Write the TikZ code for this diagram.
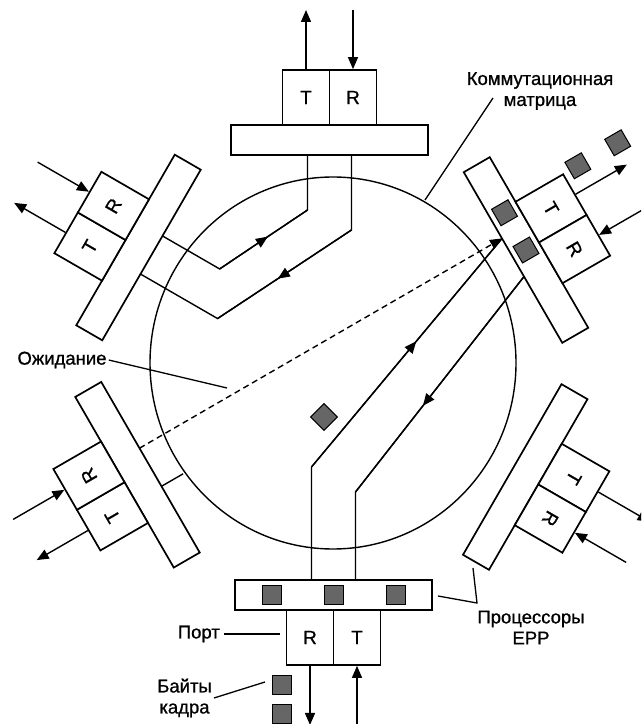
\documentclass[tikz,border=0pt]{standalone}
\usepackage{fontspec}
\setmainfont{Liberation Sans}
\newfontfamily\labelfont[FakeBold=0.9]{Liberation Sans}
\usetikzlibrary{arrows.meta,decorations.markings}

\tikzset{
  wire/.style={line width=1.4pt},
  frame/.style={draw, line width=1.7pt, fill=white, rectangle, inner sep=0pt, transform shape},
  probar/.style={frame, minimum width=197pt, minimum height=30pt},
  cellbox/.style={frame, minimum width=47pt, minimum height=55pt, font=\labelfont\fontsize{19}{22}\selectfont},
  tipped/.style={wire, -{Triangle[length=12pt,width=10pt]}},
  midtip/.style={decoration={markings, mark=at position #1 with {\arrow{Triangle[length=12pt,width=10pt]}}}, postaction={decorate}},
  byte/.style={draw=black, line width=1pt, fill=black!60, minimum size=19pt, inner sep=0pt, transform shape},
  caption/.style={font=\labelfont\fontsize{18.5}{21}\selectfont, inner sep=2pt, align=center},
  leader/.style={line width=1.3pt},
}

% one port: processor bar, T/R cells, lead points and the two external lines
% #1 name, #2 bar centre, #3 rotation, #4 1 = T out / R in, 0 = reversed,
% #5 extra options for the cell letters
\newcommand{\portunit}[5]{%
  \begin{scope}[shift={#2}, rotate=#3]
    \node[probar] (#1-bar) at (0,0) {};
    \node[cellbox] (#1-T) at (-23.5,42.5) {};
    \node[cellbox] (#1-R) at (23.5,42.5) {};
    \node[transform shape, font=\labelfont\fontsize{19}{22}\selectfont, #5] at (#1-T) {T};
    \node[transform shape, font=\labelfont\fontsize{19}{22}\selectfont, #5] at (#1-R) {R};
    \coordinate (#1-lt) at (-22,-15);
    \coordinate (#1-lr) at (22,-15);
    \coordinate (#1-to) at (-23.5,130);
    \coordinate (#1-ro) at (23.5,130);
    \ifnum#4=1
      \draw[tipped] (#1-T.north) -- (#1-to);
      \draw[tipped] (#1-ro) -- (#1-R.north);
    \else
      \draw[tipped] (#1-to) -- (#1-T.north);
      \draw[tipped] (#1-R.north) -- (#1-ro);
    \fi
  \end{scope}}

\begin{document}
\begin{tikzpicture}[x=1pt,y=1pt]
\useasboundingbox (0,0) rectangle (641,724);
\clip (0,0) rectangle (641,724);

% switching matrix
\coordinate (hub) at (333,361);
\draw[wire] (hub) ellipse [x radius=183, y radius=186];

% bend points of the internal routes
\begin{scope}[shift={(329.5,584)}]
  \coordinate (a1) at (-22,-70); \coordinate (b1) at (22,-90);
\end{scope}
\begin{scope}[shift={(138.5,476.5)}, rotate=60]
  \coordinate (a2) at (22,-81); \coordinate (b2) at (-22,-104);
\end{scope}
\begin{scope}[shift={(333.5,129)}, rotate=180]
  \coordinate (c1) at (22,-128); \coordinate (d1) at (-22,-103);
\end{scope}
\begin{scope}[shift={(137.5,249.25)}, rotate=120]
  \coordinate (e1) at (-22,-40);
\end{scope}

% ports around the matrix
\portunit{top}{(329.5,584)}{0}{1}{}
\portunit{ur}{(526,474)}{-60}{1}{}
\portunit{lr}{(525.25,247)}{-120}{1}{}
\portunit{bot}{(333.5,129)}{180}{0}{rotate=180}
\portunit{ll}{(137.5,249.25)}{120}{1}{}
\portunit{ul}{(138.5,476.5)}{60}{1}{}

% routes through the matrix
\draw[wire] (top-lt) -- (a1) -- (a2) -- (ul-lr);
\draw[wire, midtip=0.55] (a2) -- (a1);
\draw[wire] (top-lr) -- (b1) -- (b2) -- (ul-lt);
\draw[wire, midtip=0.55] (b1) -- (b2);
\draw[wire] (bot-lr) -- (c1) -- (ur-lt);
\draw[wire, midtip=0.55] (c1) -- (ur-lt);
\draw[wire] (bot-lt) -- (d1) -- (ur-lr);
\draw[wire, midtip=0.6] (ur-lr) -- (d1);
\draw[wire, dash pattern=on 6pt off 4pt, -{Triangle[length=12pt,width=10pt]}] (ll-lr) -- (ur-lt);
\draw[wire] (ll-lt) -- (e1);

% frame bytes
\begin{scope}[shift={(526,474)}, rotate=-60]
  \node[byte] (ub1) at (-43,0) {};
  \node[byte] (ub2) at (0,0) {};
  \node[byte] (ub3) at (-47,87) {};
  \node[byte] (ub4) at (-47,133) {};
\end{scope}
\begin{scope}[shift={(333.5,129)}, rotate=180]
  \node[byte] (bb1) at (-62,0) {};
  \node[byte] (bb2) at (0,0) {};
  \node[byte] (bb3) at (62,0) {};
  \node[byte] (bb4) at (51.5,90) {};
  \node[byte] (bb5) at (51.5,119) {};
\end{scope}
\node[byte, rotate=45] (cb) at (324,307) {};

% captions and leaders
\node[caption] (mtx) at (540,633) {Коммутационная\\матрица};
\coordinate (mtx-foot) at (493,626);
\coordinate (mtx-rim) at (425,524);
\draw[leader] (mtx-foot) -- (mtx-rim);

\node[caption] (wait) at (62,364) {Ожидание};
\coordinate (wait-end) at (227,336);
\draw[leader] (wait.east) -- (wait-end);

\node[caption, anchor=east] (portlbl) at (222,90) {Порт};
\coordinate (port-end) at (280,90);
\draw[leader, shorten <=2pt] (portlbl.east) -- (port-end);

\node[caption, anchor=east] (bytes) at (214,26) {Байты\\кадра};
\coordinate (bytes-end) at (265,42);
\draw[leader] (bytes.east) -- (bytes-end);

\node[caption] (epp) at (531,96.5) {Процессоры\\EPP};
\coordinate (epp-a) at (438,128);
\coordinate (epp-b) at (477,121);
\coordinate (epp-c) at (473,156);
\draw[leader] (epp-a) -- (epp-b) -- (epp-c);
\end{tikzpicture}
\end{document}
